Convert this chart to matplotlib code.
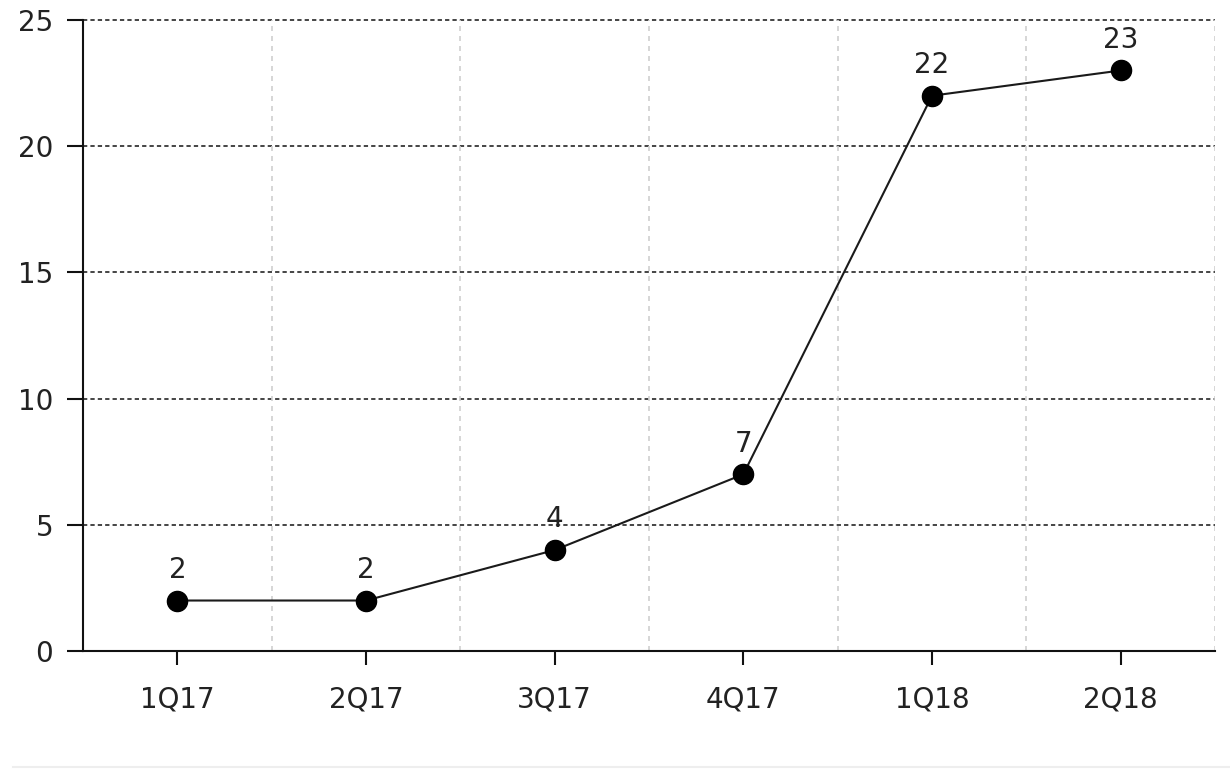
import matplotlib
matplotlib.use("Agg")
import matplotlib.pyplot as plt
from matplotlib.lines import Line2D

categories = ["1Q17", "2Q17", "3Q17", "4Q17", "1Q18", "2Q18"]
values = [2, 2, 4, 7, 22, 23]
y_ticks = [0, 5, 10, 15, 20, 25]

plt.rcParams['font.family'] = ['DejaVu Sans']

fig = plt.figure(figsize=(12.3, 7.77), dpi=100)
ax = fig.add_axes([83/1230, 1 - 651/777, (1215 - 83)/1230, (651 - 20)/777])

x = list(range(len(categories)))
ax.plot(x, values, color='#1a1a1a', linewidth=1.5, marker='o', markersize=14.5,
        markerfacecolor='black', markeredgecolor='black', zorder=3, clip_on=False)
for xi, v in zip(x, values):
    ax.annotate(str(v), (xi, v), xytext=(0, 12), textcoords='offset points',
                ha='center', va='bottom', fontsize=20, color='#222222')

ax.set_xlim(-0.5, len(categories) - 0.5)
ax.set_ylim(0, 25)
ax.set_xticks(x)
ax.set_xticklabels(categories)
ax.set_yticks(y_ticks)

# horizontal dotted grid
for yv in y_ticks[1:]:
    ax.axhline(yv, color='#444444', linewidth=1.4, linestyle=(0, (2.2, 1.6)), zorder=1, clip_on=False)
# vertical light grid between categories
for i in range(len(categories)):
    ax.axvline(i + 0.5, color='#d0d0d0', linewidth=1.2, linestyle=(0, (3, 3)), zorder=1)

for s in ['top', 'right']:
    ax.spines[s].set_visible(False)
for s in ['left', 'bottom']:
    ax.spines[s].set_linewidth(1.5)
    ax.spines[s].set_color('#111111')

ax.tick_params(axis='y', length=11.5, width=1.5, pad=10, labelsize=20, labelcolor='#222222', color='#111111')
ax.tick_params(axis='x', length=10, width=1.5, pad=15, labelsize=20, labelcolor='#222222', color='#111111')

fig.add_artist(Line2D([13/1230, 1], [1 - 767/777, 1 - 767/777], color='#eeeeee', linewidth=1.5,
                      transform=fig.transFigure))

fig.savefig("out.png", dpi=100, facecolor='white')
